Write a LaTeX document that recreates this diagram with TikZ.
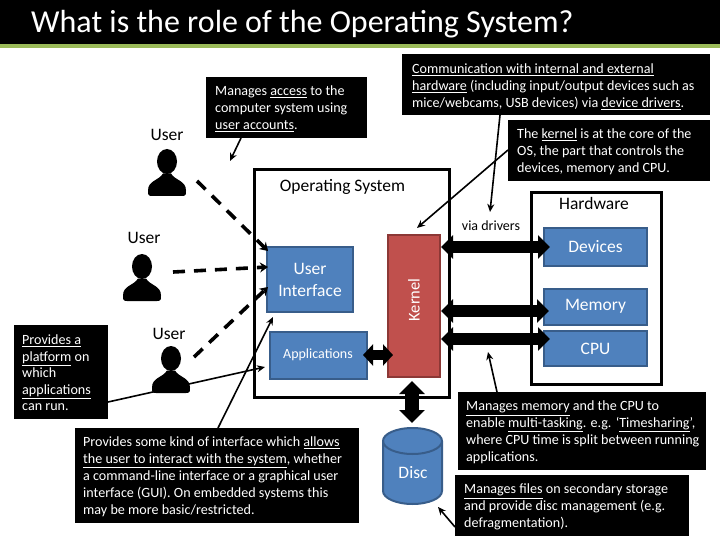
\documentclass[tikz,border=0pt]{standalone}
\usepackage{fontspec}
\setmainfont{Carlito}
\usetikzlibrary{arrows.meta,shapes.geometric}
\newcommand{\ul}[1]{\underline{#1}}
\definecolor{boxblue}{HTML}{4F81BD}
\definecolor{boxline}{HTML}{385D8A}
\definecolor{boxred}{HTML}{C0504D}
\definecolor{redline}{HTML}{8C3836}
\definecolor{bargreen}{HTML}{9BBB59}
\tikzset{x=1pt,y=-1pt,
 panel/.style={fill=black,inner sep=0pt,anchor=north west},
 note/.style={text=white,font=\fontsize{14.1}{17}\selectfont,align=left,inner sep=0pt,anchor=north west},
 blue box/.style={draw=boxline,fill=boxblue,line width=2pt,text=white,font=\fontsize{17.5}{22}\selectfont,align=center,inner sep=0pt},
 lab/.style={font=\fontsize{17.5}{20}\selectfont,text=black},
 thin arr/.style={-{Stealth[length=8pt,width=7pt]},line width=1.6pt},
 fat arr/.style={{Stealth[length=12pt,width=23pt,inset=0pt]}-{Stealth[length=12pt,width=23pt,inset=0pt]},line width=12pt},
 dash arr/.style={-{Stealth[length=8pt,width=10pt]},line width=3.6pt,dash pattern=on 12pt off 9pt},
 frame/.style={draw=black,line width=3pt,fill=white,inner sep=0pt}}
\newcommand{\person}[2]{%
 \fill (#1,#2) ellipse (10 and 12.5);
 \fill (#1-19,#2+29) .. controls (#1-19,#2+19) and (#1-8,#2+19) .. (#1-4,#2+12) -- (#1+4,#2+12) .. controls (#1+8,#2+19) and (#1+19,#2+19) .. (#1+19,#2+29) .. controls (#1+19,#2+33) and (#1+19,#2+34.5) .. (#1+15,#2+34.5) -- (#1-15,#2+34.5) .. controls (#1-19,#2+34.5) and (#1-19,#2+33) .. (#1-19,#2+29) -- cycle;}
\begin{document}
\begin{tikzpicture}
\useasboundingbox (0,0) rectangle (720,540);
\fill[white] (0,0) rectangle (720,540);
% title bar
\fill[black] (0,0) rectangle (720,44);
\fill[bargreen] (0,44) rectangle (720,48);
\node[anchor=west,inner sep=0pt,text=white,font=\fontsize{32}{34}\selectfont] (title) at (31,24) {What is the role of the Operating System?};
% frames
\node[frame,minimum width=195pt,minimum height=227pt] (os) at (351.5,283.5) {};
\node[frame,minimum width=130pt,minimum height=191pt] (hw) at (596,288.5) {};
\node[lab] (ostxt) at (342.5,186.5) {Operating System};
\node[lab] (hwtxt) at (594,203.5) {Hardware};
% boxes
\node[blue box,minimum width=86pt,minimum height=65pt] (ui) at (310,279.5) {User\\Interface};
\node[blue box,minimum width=97pt,minimum height=47pt,font=\fontsize{14}{16}\selectfont] (app) at (318.5,355) {\hspace*{-1pt}Applications};
\node[draw=redline,fill=boxred,line width=2pt,minimum width=52pt,minimum height=142pt,inner sep=0pt] (ker) at (414,306) {};
\node[rotate=90,text=white,font=\fontsize{16.5}{18}\selectfont] (kertxt) at (414,300) {Kernel};
\node[blue box,minimum width=103pt,minimum height=38pt] (dev) at (595.5,247) {Devices};
\node[blue box,minimum width=103pt,minimum height=36pt] (mem) at (595.5,306.5) {\raisebox{-2pt}{Memory}};
\node[blue box,minimum width=103pt,minimum height=35pt] (cpu) at (595.5,348.5) {CPU};
% disc
\draw[draw=boxline,fill=boxblue,line width=2pt] (383,441) arc[start angle=180,end angle=360,x radius=29.5,y radius=13] -- (442,491) arc[start angle=0,end angle=180,x radius=29.5,y radius=13] -- cycle;
\draw[draw=boxline,line width=2pt] (383,441) arc[start angle=180,end angle=0,x radius=29.5,y radius=13];
\node[text=white,font=\fontsize{17.5}{20}\selectfont] (disctxt) at (413,473) {Disc};
% fat arrows
\coordinate (d1) at (441,247);\coordinate (d2) at (550,247);
\coordinate (m1) at (441,311);\coordinate (m2) at (549,311);
\coordinate (c1) at (441,339);\coordinate (c2) at (550,339);
\draw[fat arr] (d1) -- (d2);
\draw[fat arr] (m1) -- (m2);
\draw[fat arr] (c1) -- (c2);
\draw[{Stealth[length=10pt,width=21pt,inset=0pt]}-{Stealth[length=10pt,width=21pt,inset=0pt]},line width=10pt,shorten <=-5pt,shorten >=-6pt] (app.east) -- (ker.west |- app.east);
\draw[{Stealth[length=13pt,width=25pt,inset=0pt]}-{Stealth[length=13pt,width=25pt,inset=0pt]},line width=14pt] (412,381) -- (412,423);
% users
\person{167}{161.5}
\person{142}{266.5}
\person{171}{358.5}
\node[lab] (u1) at (167,134.5) {User};
\node[lab] (u2) at (144,238) {User};
\node[lab] (u3) at (169,333.5) {User};
\coordinate (du1) at (197,181);\coordinate (du1e) at (268,251);
\coordinate (du2) at (173,272);\coordinate (du2e) at (268,267);
\coordinate (du3) at (194,357);\coordinate (du3e) at (268,287);
\draw[dash arr] (du1) -- (du1e);
\draw[dash arr] (du2) -- (du2e);
\draw[dash arr] (du3) -- (du3e);
% notes
\node[panel,minimum width=161pt,minimum height=61pt] (n1) at (206,77) {};
\node[note] (n1t) at (215,86) {Manages \ul{access} to the\\computer system using\\\ul{user accounts}.};
\node[panel,minimum width=308pt,minimum height=61pt] (n2) at (402,54) {};
\node[note] (n2t) at (412,64) {\ul{Communication with internal and external}\\\ul{hardware} (including input/output devices such as\\mice/webcams, USB devices) via \ul{device drivers}.};
\node[panel,minimum width=202pt,minimum height=61pt] (n3) at (508,120) {};
\node[note] (n3t) at (517,129) {The \ul{kernel} is at the core of the\\OS, the part that controls the\\devices, memory and CPU.};
\node[panel,minimum width=94pt,minimum height=94pt] (n4) at (14,325) {};
\node[note,font=\fontsize{14.1}{16.5}\selectfont] (n4t) at (22,335) {\ul{Provides a}\\\ul{platform} on\\which\\\ul{applications}\\can run.};
\node[panel,minimum width=284pt,minimum height=95pt] (n5) at (75,428) {};
\node[note] (n5t) at (83,437) {Provides some kind of interface which \ul{allows}\\\ul{the user to interact with the system}, whether\\a command-line interface or a graphical user\\interface (GUI). On embedded systems this\\may be more basic/restricted.};
\node[panel,minimum width=248pt,minimum height=78pt] (n6) at (458,392) {};
\node[note,font=\fontsize{14.1}{16.7}\selectfont] (n6t) at (466,401) {\ul{Manages memory} and the CPU to\\enable \ul{multi-tasking}. e.g. ‘\ul{Timesharing}’,\\where CPU time is split between running\\applications.};
\node[panel,minimum width=234pt,minimum height=61pt] (n7) at (455,475) {};
\node[note] (n7t) at (464,484) {\ul{Manages files} on secondary storage\\and provide disc management (e.g.\\defragmentation).};
% via drivers
\node[font=\fontsize{14}{16}\selectfont] (via) at (491,226) {via drivers};
% thin arrows
\coordinate (t1) at (230,161);
\coordinate (t2) at (490,212);
\coordinate (t3) at (417,228);
\coordinate (t4) at (273,317);
\coordinate (t5) at (265,367);
\coordinate (t6) at (488,352);
\coordinate (t7) at (438,507);
\draw[thin arr] (241,138) -- (t1);
\draw[thin arr] (500,115) -- (t2);
\draw[thin arr] (508,150) -- (t3);
\draw[thin arr] (218,428) -- (t4);
\draw[thin arr] (108,402) -- (t5);
\draw[thin arr] (497,392) -- (t6);
\draw[thin arr] (455,527) -- (t7);
\end{tikzpicture}
\end{document}
